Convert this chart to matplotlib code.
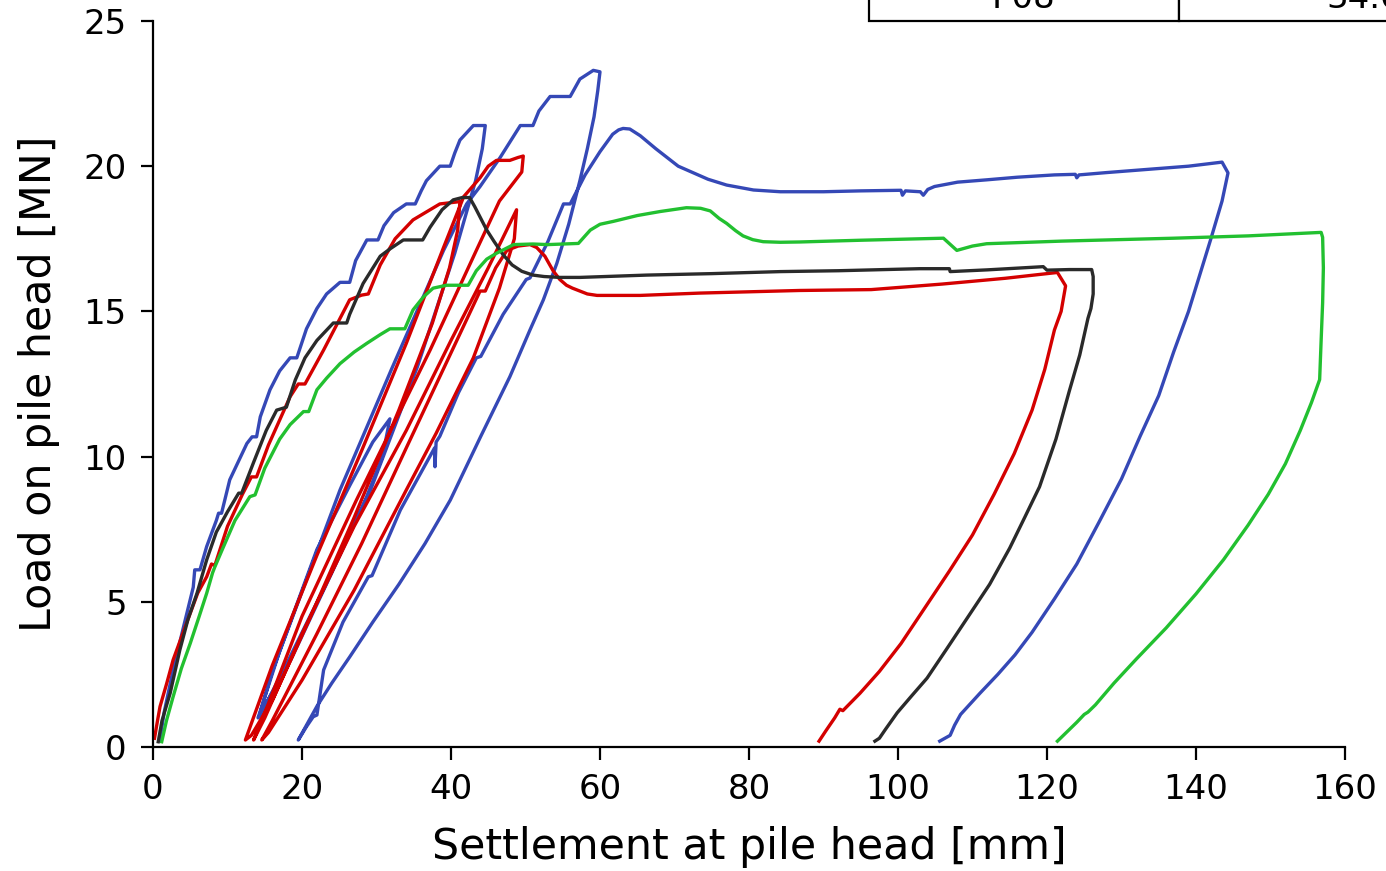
import matplotlib
matplotlib.use("Agg")
import matplotlib.pyplot as plt

# ---- data (settlement [mm], load [MN]) ----
blue_s = [0.9, 1.5, 2.7, 4.1, 5.4, 5.6, 6.3, 7.2, 8.5, 8.8, 9.2, 10.3, 12.6, 13.3, 13.9, 14.4, 15.7,
          17.0, 18.4, 19.3, 20.6, 22.0, 23.3, 25.1, 26.4, 27.2, 28.7, 30.2, 31.0, 32.3, 34.0, 35.2, 36.0,
          36.7, 38.5, 39.9, 40.5, 41.2, 43.0, 44.6,
          44.2, 43.3, 40.5, 35.5, 29.2, 23.0, 18.0, 15.0, 14.1,
          17.0, 22.0, 26.4, 29.5, 31.8,
          30.8, 28.5, 24.0, 18.5, 14.3,
          16.0, 19.5, 25.1, 32.0, 39.0, 42.1, 43.9, 46.6, 49.3, 51.0, 51.8, 53.3, 56.0, 57.3, 59.1, 60.0,
          59.7, 59.2, 58.3, 57.3, 55.8, 54.2, 52.4, 50.6, 47.9, 44.0, 39.9, 36.5, 33.0, 29.5, 26.4, 24.0,
          22.0, 20.5, 19.5,
          20.6, 21.5, 22.0, 22.9, 25.5, 28.9, 29.4, 33.2, 37.8, 37.85, 38.0, 38.5, 41.0, 43.4, 44.0, 47.0,
          50.1, 50.6, 53.0, 55.1, 56.0, 58.0, 60.0, 61.7, 62.5, 63.1, 64.0, 65.4, 67.5, 70.5, 74.5, 77.0,
          80.6, 84.2, 90.0, 95.0, 100.4, 100.6, 101.0, 103.0, 103.4, 104.0, 104.9, 108.0, 111.9, 116.0,
          121.0, 123.8, 124.0, 124.3, 128.0, 134.0, 139.0, 143.5, 144.3,
          143.5, 142.0, 140.5, 139.0, 137.0, 135.0, 132.5, 130.0, 127.0, 124.0, 121.0, 118.0, 115.7, 113.4,
          111.0, 108.4, 107.6, 107.0, 105.6]
blue_q = [0.2, 1.2, 2.65, 4.14, 5.5, 6.1, 6.1, 6.9, 7.8, 8.05, 8.05, 9.2, 10.45, 10.68, 10.68, 11.37, 12.3,
          12.95, 13.4, 13.4, 14.4, 15.1, 15.6, 16.0, 16.0, 16.75, 17.46, 17.46, 17.95, 18.4, 18.7, 18.7, 19.15,
          19.5, 20.0, 20.0, 20.45, 20.9, 21.4, 21.4,
          20.6, 19.5, 17.0, 13.1, 8.85, 5.5, 2.9, 1.4, 1.0,
          3.3, 6.8, 9.0, 10.5, 11.3,
          10.0, 8.5, 6.0, 3.0, 1.1,
          2.6, 5.0, 8.85, 13.0, 17.1, 18.7, 19.3, 20.3, 21.4, 21.4, 21.9, 22.4, 22.4, 23.0, 23.3, 23.25,
          22.6, 21.7, 20.6, 19.5, 18.0, 16.65, 15.4, 14.36, 12.75, 10.7, 8.5, 7.0, 5.6, 4.3, 3.1, 2.2,
          1.4, 0.7, 0.24,
          0.7, 1.04, 1.1, 2.65, 4.3, 5.86, 5.9, 8.16, 10.3, 9.65, 10.5, 10.7, 12.2, 13.4, 13.45, 14.9,
          16.1, 16.15, 17.4, 18.7, 18.7, 19.7, 20.5, 21.1, 21.25, 21.3, 21.28, 21.05, 20.6, 20.0, 19.55, 19.35,
          19.18, 19.12, 19.12, 19.15, 19.17, 19.0, 19.15, 19.12, 19.0, 19.2, 19.3, 19.45, 19.53, 19.62,
          19.7, 19.72, 19.6, 19.7, 19.78, 19.9, 20.0, 20.14, 19.77,
          18.8, 17.5, 16.25, 15.0, 13.6, 12.1, 10.7, 9.23, 7.75, 6.3, 5.1, 3.95, 3.17, 2.5,
          1.85, 1.12, 0.75, 0.4, 0.2]

red_s = [0.2, 0.6, 0.94, 1.84, 2.7, 4.5, 6.0, 7.2, 7.85, 8.3, 10.0, 12.0, 13.2, 13.9, 15.5, 18.4, 19.5,
         20.4, 22.9, 26.4, 28.0, 28.9, 30.5, 32.5, 34.9, 38.5, 41.2,
         40.9, 39.8, 37.5, 33.0, 27.0, 21.0, 16.0, 13.2, 12.4,
         16.0, 22.0, 28.0, 34.0, 39.0, 41.7, 43.9, 45.0, 46.1, 47.9, 49.0, 49.7,
         49.5, 46.5, 43.4, 37.2, 27.3, 20.0, 15.5, 13.5,
         15.0, 20.0, 27.0, 34.0, 40.0, 45.0, 48.8,
         48.5, 46.5, 43.0, 38.0, 34.0, 27.0, 20.0, 15.5, 14.6,
         16.0, 22.0, 28.0, 34.0, 39.5, 43.9, 44.6, 46.0, 47.5, 49.0, 50.6, 51.5, 52.6, 53.7, 54.6, 55.5,
         56.3, 57.3, 58.3, 59.6, 65.4, 73.4, 86.8, 96.4, 105.9, 114.4, 121.4, 122.5,
         121.9, 121.0, 119.7, 118.0, 115.6, 112.9, 110.0, 106.9, 103.5, 100.4, 97.5, 94.9, 92.6, 92.2,
         91.5, 90.3, 89.4]
red_q = [0.3, 0.9, 1.39, 2.19, 3.0, 4.26, 5.3, 5.86, 6.3, 6.25, 7.6, 8.7, 9.3, 9.3, 10.4, 12.06, 12.5,
         12.5, 13.67, 15.4, 15.56, 15.6, 16.6, 17.5, 18.15, 18.7, 18.78,
         17.8, 16.5, 14.6, 11.6, 7.9, 4.4, 1.6, 0.4, 0.24,
         2.8, 6.6, 10.2, 13.9, 17.2, 18.95, 19.6, 20.0, 20.2, 20.2, 20.3, 20.35,
         19.8, 18.8, 17.1, 13.67, 8.5, 4.5, 1.5, 0.24,
         1.0, 3.9, 7.6, 10.9, 14.0, 16.5, 18.5,
         17.5, 15.8, 13.4, 10.8, 8.85, 5.4, 2.3, 0.5, 0.24,
         0.9, 3.9, 7.0, 10.3, 13.3, 15.7, 15.7, 16.5, 17.1, 17.25, 17.3, 17.2, 16.9, 16.4, 16.1, 15.9,
         15.8, 15.7, 15.6, 15.55, 15.55, 15.63, 15.72, 15.75, 15.94, 16.14, 16.34, 15.88,
         15.0, 14.36, 13.0, 11.6, 10.1, 8.7, 7.3, 6.06, 4.75, 3.56, 2.6, 1.85, 1.25, 1.3,
         1.0, 0.55, 0.2]

black_s = [0.7, 1.2, 2.3, 3.6, 4.7, 5.9, 7.2, 8.5, 10.0, 11.5, 11.9, 13.5, 15.2, 16.6, 17.9, 19.1, 20.4,
           22.0, 24.2, 26.0, 26.4, 28.2, 30.5, 31.8, 33.6, 36.2, 37.2, 38.8, 40.3, 41.5, 42.5, 43.2, 44.0,
           44.8, 45.8, 47.0, 48.2, 49.5, 51.0, 52.5, 54.6, 57.3, 66.3, 75.0, 84.2, 92.0, 102.9, 106.9, 107.0,
           112.0, 119.5, 120.0, 123.0, 126.0, 126.2,
           126.2, 125.9, 125.5, 124.4, 123.0, 121.2, 119.0, 117.0, 115.0, 112.3, 109.4, 106.6, 103.9, 101.8,
           99.9, 98.3, 97.5, 96.9]
black_q = [0.18, 0.9, 1.85, 3.34, 4.4, 5.29, 6.44, 7.4, 8.1, 8.74, 8.74, 9.8, 10.9, 11.6, 11.7, 12.64, 13.4,
           14.0, 14.6, 14.6, 14.9, 15.96, 16.9, 17.15, 17.46, 17.46, 17.9, 18.5, 18.84, 18.92, 18.92, 18.6, 18.2,
           17.8, 17.4, 16.95, 16.6, 16.38, 16.25, 16.2, 16.17, 16.17, 16.25, 16.3, 16.37, 16.4, 16.47, 16.47, 16.37,
           16.43, 16.54, 16.42, 16.44, 16.44, 16.2,
           15.6, 15.1, 14.76, 13.5, 12.26, 10.6, 8.96, 7.9, 6.85, 5.6, 4.48, 3.4, 2.37, 1.75,
           1.18, 0.6, 0.3, 0.2]

green_s = [1.17, 1.8, 2.7, 3.8, 5.0, 6.2, 7.2, 8.0, 8.3, 9.3, 11.0, 13.0, 13.7, 15.0, 17.0, 18.4, 20.2,
           20.9, 22.0, 23.3, 25.1, 27.0, 28.7, 30.5, 31.8, 33.8, 34.9, 36.3, 37.6, 39.4, 42.3, 43.4, 44.8,
           46.1, 48.4, 51.0, 53.0, 57.1, 58.0, 58.7, 60.0, 61.8, 65.0, 68.1, 71.6, 73.5, 74.8, 76.0, 77.0,
           78.2, 79.2, 80.5, 81.9, 84.2, 86.8, 95.0, 106.1, 107.9, 110.0, 111.9, 122.0, 137.0, 147.0, 156.8,
           157.0, 157.1, 157.0, 156.8, 156.6, 155.5, 154.0, 152.0, 149.7, 147.0, 143.7, 140.0, 136.0, 132.0,
           129.0, 126.5, 125.5, 125.0, 124.0, 123.0, 121.4]
green_q = [0.18, 0.9, 1.73, 2.7, 3.57, 4.5, 5.29, 6.0, 6.2, 6.8, 7.8, 8.62, 8.68, 9.6, 10.6, 11.1, 11.55,
           11.55, 12.3, 12.7, 13.2, 13.6, 13.9, 14.2, 14.4, 14.4, 15.05, 15.5, 15.8, 15.9, 15.9, 16.4, 16.8,
           17.0, 17.3, 17.32, 17.3, 17.34, 17.6, 17.8, 18.0, 18.1, 18.3, 18.44, 18.57, 18.55, 18.46, 18.2, 18.03,
           17.78, 17.6, 17.47, 17.4, 17.38, 17.39, 17.45, 17.52, 17.1, 17.25, 17.33, 17.42, 17.52, 17.6, 17.72,
           17.55, 16.5, 15.29, 14.0, 12.65, 11.86, 10.9, 9.75, 8.7, 7.64, 6.45, 5.27, 4.1, 3.03,
           2.2, 1.45, 1.2, 1.12, 0.85, 0.6, 0.2]

table_rows = [["P08", "34.0"]]

# ---- figure ----
fig = plt.figure(figsize=(13.86, 8.71), dpi=100)
ax = fig.add_axes([0.1104, 0.1424, 0.8600, 0.8335])

ax.plot(blue_s, blue_q, color="#3548b6", lw=2.4)
ax.plot(red_s, red_q, color="#d40000", lw=2.4)
ax.plot(black_s, black_q, color="#2a2a2a", lw=2.4)
ax.plot(green_s, green_q, color="#22c030", lw=2.4)

ax.set_xlim(0, 160)
ax.set_ylim(0, 25)
ax.set_xticks(range(0, 161, 20))
ax.set_yticks(range(0, 26, 5))
ax.spines["top"].set_visible(False)
ax.spines["right"].set_visible(False)
for sp in ("left", "bottom"):
    ax.spines[sp].set_linewidth(1.6)
ax.tick_params(labelsize=24.5, width=1.6, length=9, pad=10)
ax.set_xlabel("Settlement at pile head [mm]", fontsize=30.8, labelpad=14)
ax.set_ylabel("Load on pile head [MN]", fontsize=30.8, labelpad=17)

tbl = ax.table(cellText=table_rows, cellLoc="center", colWidths=[0.26, 0.31],
               bbox=[0.6007, 1.0, 0.57, 0.063])
tbl.auto_set_font_size(False)
tbl.set_fontsize(24.5)
for cell in tbl.get_celld().values():
    cell.set_linewidth(1.6)

fig.savefig("out.png", dpi=100)
